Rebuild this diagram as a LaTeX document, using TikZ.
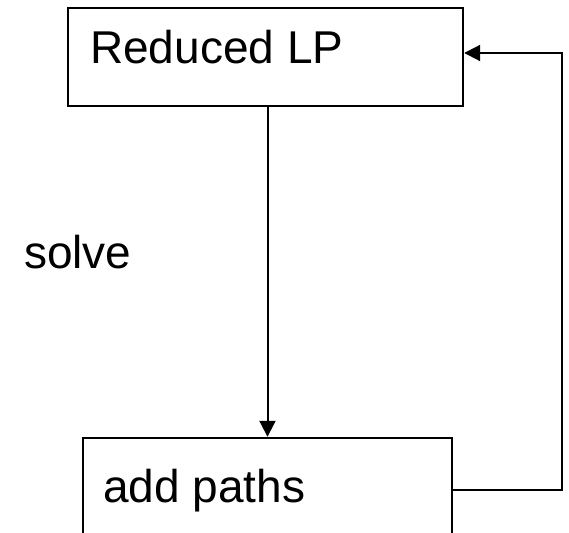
\documentclass[tikz,border=0pt]{standalone}
\usepackage{fontspec}
\setmainfont{Liberation Sans}
\usetikzlibrary{arrows.meta,calc}
\begin{document}
\begin{tikzpicture}[x=1pt,y=-1pt,
  box/.style={draw, line width=2.4pt, rectangle, inner sep=0pt},
  lbl/.style={anchor=base west, inner sep=0pt, font=\fontsize{46}{50}\selectfont},
  conn/.style={line width=2pt, -{Triangle[length=16pt,width=16pt]}}]
\useasboundingbox (0,0) rectangle (569,532);
\clip (0,0) rectangle (569,532);
\node[box, minimum width=395pt, minimum height=98pt] (top) at (265.5,57) {};
\node[box, minimum width=369pt, minimum height=104pt] (bot) at (267.5,490) {};
\node[lbl] (t1) at (90,64) {Reduced LP};
\node[lbl] (t2) at (24,268) {solve};
\node[lbl] (t3) at (103,502) {add paths};
\draw[conn] (top.south -| bot.north) -- (bot.north);
\coordinate (c1) at (562,490);
\coordinate (c2) at (562,53);
\draw[conn] (bot.east) -- (c1) -- (c2) -- (top.east |- c2);
\end{tikzpicture}
\end{document}
